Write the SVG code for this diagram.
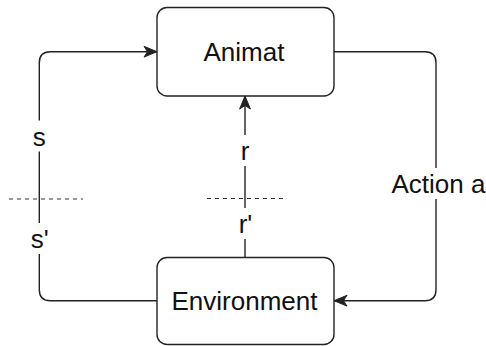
<svg xmlns="http://www.w3.org/2000/svg" width="486" height="346" viewBox="0 0 486 346">
  <defs>
    <marker id="arrow" markerUnits="userSpaceOnUse" markerWidth="16" markerHeight="14" viewBox="-14 -7 16 14" refX="0" refY="0" orient="auto">
      <path d="M0,0 L-13,-5.4 L-9.5,0 L-13,5.4 Z" fill="#222" stroke="#222" stroke-width="1" stroke-linejoin="miter"/>
    </marker>
    <style>
      .box { fill: #ffffff; stroke: #222222; stroke-width: 1.4; }
      .edge { fill: none; stroke: #222222; stroke-width: 1.4; }
      .cut { fill: none; stroke: #333333; stroke-width: 1.1; stroke-dasharray: 4 4; }
      .node-text { font-family: "Liberation Sans", Arial, Helvetica, sans-serif; font-size: 26px; fill: #111111; text-anchor: middle; }
      .label-text { font-family: "Liberation Sans", Arial, Helvetica, sans-serif; font-size: 26px; fill: #111111; text-anchor: middle; }
      .label-bg { fill: #ffffff; stroke: none; }
    </style>
  </defs>

  <!-- connectors -->
  <g id="connectors">
    <!-- state: Environment -> Animat (left loop) -->
    <path class="edge" d="M157,300.7 H50.3 Q39.3,300.7 39.3,289.7 V62.7 Q39.3,51.7 50.3,51.7 H157" marker-end="url(#arrow)"/>
    <!-- action: Animat -> Environment (right loop) -->
    <path class="edge" d="M334,51.7 H425 Q436,51.7 436,62.7 V289.7 Q436,300.7 425,300.7 H334" marker-end="url(#arrow)"/>
    <!-- reward: Environment -> Animat -->
    <path class="edge" d="M245,257.5 V96" marker-end="url(#arrow)"/>

    <!-- edge labels -->
    <g id="label-s">
      <rect class="label-bg" x="30" y="120.5" width="19" height="31"/>
      <text class="label-text" x="39.3" y="145.5">s</text>
    </g>
    <g id="label-s-prime">
      <rect class="label-bg" x="28" y="223" width="23" height="31"/>
      <text class="label-text" x="39.8" y="248">s'</text>
    </g>
    <g id="label-r">
      <rect class="label-bg" x="237" y="135" width="16" height="31"/>
      <text class="label-text" x="245" y="160">r</text>
    </g>
    <g id="label-r-prime">
      <rect class="label-bg" x="235" y="208" width="20" height="31"/>
      <text class="label-text" x="245.5" y="233">r'</text>
    </g>
    <g id="label-action">
      <rect class="label-bg" x="390" y="168" width="96" height="31"/>
      <text class="label-text" x="438.5" y="192.5">Action a</text>
    </g>

    <!-- dashed cut lines -->
    <line class="cut" x1="9" y1="199" x2="83" y2="199"/>
    <line class="cut" x1="207" y1="198.5" x2="283" y2="198.5"/>
  </g>

  <!-- nodes -->
  <g id="animat">
    <rect class="box" x="157" y="7.5" width="177" height="88.5" rx="10" ry="10"/>
    <text class="node-text" x="244" y="61">Animat</text>
  </g>
  <g id="environment">
    <rect class="box" x="157" y="257.5" width="177" height="87" rx="10" ry="10"/>
    <text class="node-text" x="244.5" y="310">Environment</text>
  </g>
</svg>
